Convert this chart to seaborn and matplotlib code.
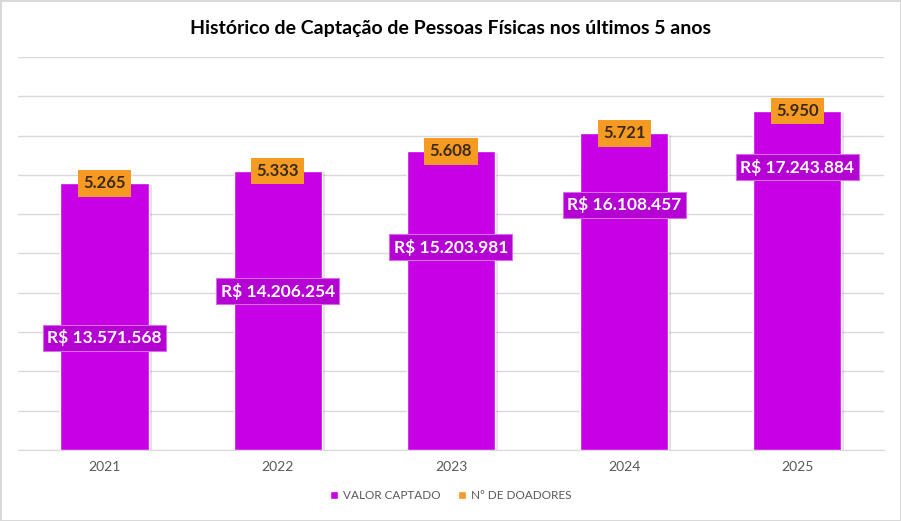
import pandas as pd
import matplotlib.pyplot as plt
import matplotlib.patheffects as pe
from matplotlib.patches import Patch
import seaborn as sns

# Dados do gráfico
anos = ["2021", "2022", "2023", "2024", "2025"]
valor_captado = [13571568, 14206254, 15203981, 16108457, 17243884]
num_doadores = [5265, 5333, 5608, 5721, 5950]

# Posição vertical dos rótulos R$ (em unidades do eixo y)
pos_rotulo = [5.70e6, 8.09e6, 10.33e6, 12.47e6, 14.40e6]

roxo = "#C800E6"
laranja = "#F59A23"

df = pd.DataFrame({"ano": anos, "valor": valor_captado, "doadores": num_doadores})


def fmt_br(v):
    return f"{v:,}".replace(",", ".")


sns.set_style("white")
plt.rcParams["font.family"] = ["Lato", "DejaVu Sans"]

fig = plt.figure(figsize=(9.01, 5.21), dpi=100)
fig.patch.set_edgecolor("#d9d9d9")
fig.patch.set_linewidth(2)
ax = fig.add_axes([0.020, 0.1363, 0.961, 0.7543])

sns.barplot(data=df, x="ano", y="valor", color=roxo, saturation=1, width=0.51, ax=ax, zorder=3)
for bar in ax.patches:
    bar.set_path_effects([pe.SimplePatchShadow(offset=(2, -1), alpha=0.13), pe.Normal()])

ax.set_ylim(0, 20e6)
ax.set_xlim(-0.5, 4.5)
ax.set_yticks([i * 2e6 for i in range(11)])
ax.set_yticklabels([])
ax.yaxis.grid(True, color="#d9d9d9", linewidth=1)
ax.set_axisbelow(True)
for s in ["top", "right", "left"]:
    ax.spines[s].set_visible(False)
ax.spines["bottom"].set_color("#d9d9d9")
ax.tick_params(axis="x", length=0, labelsize=10, labelcolor="#595959", pad=8)
ax.tick_params(axis="y", length=0)
ax.set_xlabel("")
ax.set_ylabel("")

for i, (v, d) in enumerate(zip(valor_captado, num_doadores)):
    ax.text(i, v, fmt_br(d), ha="center", va="center", fontsize=12, fontweight="bold",
            color="#3b2a1a", zorder=5,
            bbox=dict(boxstyle="square,pad=0.32", facecolor=laranja, edgecolor="none"))
    ax.text(i, pos_rotulo[i], "R$ " + fmt_br(v), ha="center", va="center", fontsize=12.5,
            fontweight="bold", color="white", zorder=5,
            bbox=dict(boxstyle="square,pad=0.25", facecolor="#B400D2", edgecolor="#D66BEB", linewidth=0.8))

fig.text(0.5, 0.946, "Histórico de Captação de Pessoas Físicas nos últimos 5 anos",
         ha="center", va="center", fontsize=14, fontweight="bold", color="black")

handles = [Patch(facecolor=roxo, label="VALOR CAPTADO"), Patch(facecolor=laranja, label="Nº DE DOADORES")]
fig.legend(handles=handles, loc="center", bbox_to_anchor=(0.5, 0.048), ncol=2, frameon=False,
           fontsize=8.5, labelcolor="#595959", handlelength=0.7, handleheight=0.7,
           handletextpad=0.4, columnspacing=1.5)

fig.savefig("out.png", dpi=100)
